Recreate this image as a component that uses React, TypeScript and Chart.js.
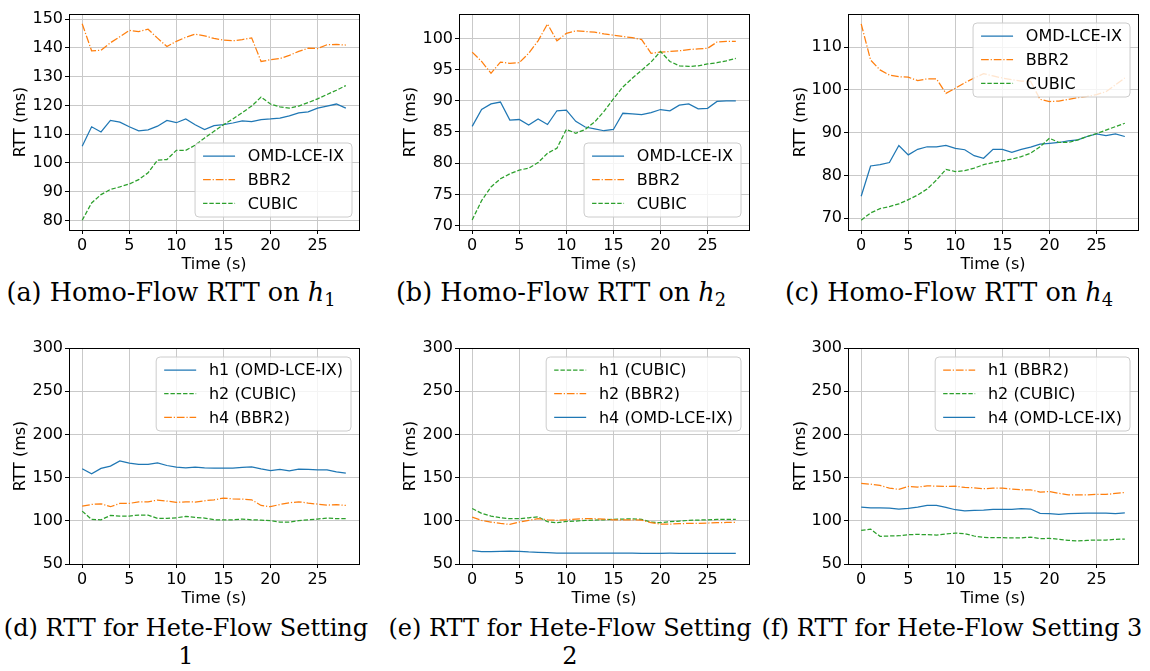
import React, { useEffect, useRef } from 'react';
import { Chart, registerables } from 'chart.js';

Chart.register(...registerables);

// ---------- data ----------
const TIME = [0, 1, 2, 3, 4, 5, 6, 7, 8, 9, 10, 11, 12, 13, 14, 15, 16, 17, 18, 19, 20, 21, 22, 23, 24, 25, 26, 27, 28];
const X_TICKS = [0, 5, 10, 15, 20, 25];

// (a) Homo-Flow RTT on h1
const A_OMD = [105.8, 112.6, 110.8, 114.8, 114.2, 112.6, 111.2, 111.5, 112.8, 114.8, 114.0, 115.3, 113.3, 111.6, 113.0, 113.3, 113.9, 114.6, 114.4, 115.1, 115.3, 115.6, 116.4, 117.4, 117.8, 119.1, 119.8, 120.5, 119.1];
const A_BBR2 = [148.4, 139.0, 139.2, 141.8, 143.9, 146.1, 145.7, 146.5, 143.4, 140.5, 142.3, 143.7, 144.8, 144.2, 143.3, 142.7, 142.5, 142.9, 143.5, 135.3, 135.9, 136.3, 137.4, 138.8, 139.9, 139.8, 141.1, 141.2, 141.0];
const A_CUBIC = [80.1, 86.1, 89.0, 90.8, 91.7, 92.7, 94.2, 96.6, 101.0, 101.2, 104.4, 104.4, 106.2, 108.7, 111.0, 113.3, 115.3, 117.5, 119.8, 122.9, 120.5, 119.5, 119.1, 119.8, 121.0, 122.3, 123.8, 125.3, 126.9];
const A_Y_TICKS = [80, 90, 100, 110, 120, 130, 140, 150];

// (b) Homo-Flow RTT on h2
const B_OMD = [85.9, 88.6, 89.5, 89.8, 86.9, 87.0, 86.1, 87.1, 86.2, 88.4, 88.5, 86.7, 85.8, 85.5, 85.2, 85.4, 88.0, 87.9, 87.8, 88.1, 88.6, 88.4, 89.3, 89.5, 88.7, 88.8, 89.9, 90.0, 90.0];
const B_BBR2 = [97.8, 96.3, 94.4, 96.2, 96.0, 96.1, 97.6, 99.6, 102.3, 99.6, 100.8, 101.2, 101.1, 101.0, 100.7, 100.5, 100.3, 100.1, 99.8, 97.6, 97.8, 97.9, 98.0, 98.2, 98.3, 98.4, 99.4, 99.5, 99.5];
const B_CUBIC = [70.9, 74.0, 76.2, 77.5, 78.3, 78.9, 79.2, 80.1, 81.6, 82.4, 85.4, 84.8, 85.4, 86.6, 88.3, 90.3, 92.2, 93.6, 94.9, 96.2, 97.9, 96.3, 95.6, 95.5, 95.6, 95.9, 96.1, 96.4, 96.8];
const B_Y_TICKS = [70, 75, 80, 85, 90, 95, 100];

// (c) Homo-Flow RTT on h4
const C_OMD = [75.1, 82.2, 82.5, 83.0, 87.0, 84.8, 86.1, 86.7, 86.7, 87.0, 86.3, 86.0, 84.6, 84.0, 86.1, 86.1, 85.4, 86.1, 86.6, 87.3, 87.5, 87.7, 88.1, 88.3, 89.1, 89.7, 89.3, 89.7, 89.1];
const C_BBR2 = [115.5, 107.0, 104.7, 103.5, 103.1, 103.0, 102.2, 102.6, 102.6, 99.2, 100.4, 101.7, 102.8, 103.8, 103.3, 102.8, 102.4, 102.1, 102.0, 97.8, 97.3, 97.4, 97.8, 98.2, 98.5, 98.9, 99.6, 101.2, 102.8];
const C_CUBIC = [69.5, 71.2, 72.2, 72.7, 73.3, 74.3, 75.4, 76.8, 78.9, 81.4, 80.9, 81.1, 81.7, 82.5, 83.0, 83.4, 83.8, 84.4, 85.2, 86.7, 88.7, 87.7, 87.7, 88.3, 89.1, 89.8, 90.6, 91.4, 92.2];
const C_Y_TICKS = [70, 80, 90, 100, 110];

// (d) Hete-Flow Setting 1
const D_H1_OMD = [160.2, 154.4, 160.6, 163.3, 169.4, 166.7, 165.2, 165.2, 167.1, 164.0, 162.1, 161.3, 162.1, 161.3, 161.0, 161.0, 161.0, 161.7, 162.5, 160.2, 158.2, 159.4, 157.9, 159.8, 159.4, 159.0, 159.0, 156.7, 155.2];
const D_H2_CUBIC = [111.2, 101.6, 101.2, 106.2, 105.5, 105.5, 106.6, 106.6, 102.8, 102.8, 103.5, 105.1, 103.9, 103.2, 101.2, 101.2, 101.2, 102.0, 101.2, 100.8, 100.1, 98.5, 98.5, 100.1, 101.2, 102.0, 103.2, 102.4, 102.4];
const D_H4_BBR2 = [117.0, 118.9, 119.7, 116.3, 120.1, 120.1, 122.0, 122.0, 124.0, 122.8, 121.3, 122.0, 121.7, 123.2, 124.3, 126.3, 125.5, 125.1, 124.3, 117.8, 116.3, 118.9, 120.9, 122.0, 120.5, 119.3, 118.2, 118.6, 117.8];

// (e) Hete-Flow Setting 2
const E_H1_CUBIC = [114.3, 108.6, 105.5, 103.5, 102.4, 102.4, 103.5, 104.7, 98.9, 97.8, 99.3, 99.7, 100.5, 100.8, 101.2, 101.6, 102.0, 102.4, 101.6, 98.5, 97.8, 98.9, 99.7, 100.5, 100.8, 101.2, 101.6, 101.6, 101.6];
const E_H2_BBR2 = [104.3, 100.5, 98.5, 97.0, 95.8, 98.5, 100.5, 102.4, 101.2, 100.5, 101.2, 102.0, 102.4, 102.4, 102.0, 101.2, 101.2, 101.2, 100.8, 97.8, 96.2, 96.2, 96.6, 97.0, 97.0, 97.4, 97.8, 98.1, 98.1];
const E_H4_OMD = [65.4, 64.3, 64.3, 64.6, 65.0, 64.6, 63.9, 63.5, 63.1, 62.7, 62.7, 62.6, 62.6, 62.5, 62.6, 62.6, 62.5, 62.5, 62.4, 62.3, 62.4, 62.5, 62.4, 62.3, 62.3, 62.4, 62.4, 62.3, 62.2];

// (f) Hete-Flow Setting 3
const F_H1_BBR2 = [143.2, 142.4, 140.9, 137.8, 136.3, 139.8, 139.0, 140.5, 140.1, 139.8, 140.1, 138.6, 138.2, 137.1, 137.8, 137.8, 136.7, 135.9, 135.9, 133.2, 134.0, 131.7, 130.1, 130.1, 130.1, 130.5, 130.5, 131.7, 132.8];
const F_H2_CUBIC = [88.9, 90.4, 82.0, 82.4, 82.7, 83.9, 84.3, 83.9, 83.5, 84.7, 85.8, 85.1, 82.4, 80.8, 80.4, 80.4, 80.1, 80.1, 81.2, 79.3, 79.7, 78.5, 77.4, 76.6, 77.4, 77.7, 77.7, 78.5, 78.9];
const F_H4_OMD = [115.9, 115.1, 115.1, 114.7, 113.6, 114.3, 115.9, 117.8, 117.8, 115.5, 112.8, 111.6, 112.0, 112.4, 113.2, 113.2, 113.2, 114.0, 113.6, 108.6, 108.2, 107.4, 108.2, 108.6, 109.0, 109.0, 109.0, 108.2, 109.3];

const HETE_Y_TICKS = [50, 100, 150, 200, 250, 300];

// ---------- styles ----------
const FONT = '"DejaVu Sans"';
const GRID = '#c9c9c9';
const LW = 1.25;
const STYLES: Record<string, { color: string; dash: number[] }> = {
  omd: { color: '#1f77b4', dash: [] },
  bbr2: { color: '#ff7f0e', dash: [7.7, 1.9, 1.2, 1.9] },
  cubic: { color: '#2ca02c', dash: [4.4, 1.9] },
};

type Series = { label: string; values: number[]; kind: 'omd' | 'bbr2' | 'cubic' };
type Panel = {
  left: number; top: number; width: number; height: number; yWidth: number;
  yMin: number; yMax: number; yTicks: number[]; series: Series[];
  legend: { corner: 'ur' | 'lr'; gx: number; gy: number };
};

const PANELS: Panel[] = [
  {
    left: 11, top: 0, width: 352, height: 274, yWidth: 58, yMin: 76.7, yMax: 151.8, yTicks: A_Y_TICKS,
    series: [
      { label: 'OMD-LCE-IX', values: A_OMD, kind: 'omd' },
      { label: 'BBR2', values: A_BBR2, kind: 'bbr2' },
      { label: 'CUBIC', values: A_CUBIC, kind: 'cubic' },
    ],
    legend: { corner: 'lr', gx: 7, gy: 13 },
  },
  {
    left: 401, top: 0, width: 352, height: 274, yWidth: 58, yMin: 69.3, yMax: 103.9, yTicks: B_Y_TICKS,
    series: [
      { label: 'OMD-LCE-IX', values: B_OMD, kind: 'omd' },
      { label: 'BBR2', values: B_BBR2, kind: 'bbr2' },
      { label: 'CUBIC', values: B_CUBIC, kind: 'cubic' },
    ],
    legend: { corner: 'lr', gx: 8, gy: 13 },
  },
  {
    left: 791, top: 0, width: 351, height: 274, yWidth: 57, yMin: 67.2, yMax: 117.8, yTicks: C_Y_TICKS,
    series: [
      { label: 'OMD-LCE-IX', values: C_OMD, kind: 'omd' },
      { label: 'BBR2', values: C_BBR2, kind: 'bbr2' },
      { label: 'CUBIC', values: C_CUBIC, kind: 'cubic' },
    ],
    legend: { corner: 'ur', gx: 8, gy: 9 },
  },
  {
    left: 11, top: 334, width: 352, height: 274, yWidth: 58, yMin: 50, yMax: 300, yTicks: HETE_Y_TICKS,
    series: [
      { label: 'h1 (OMD-LCE-IX)', values: D_H1_OMD, kind: 'omd' },
      { label: 'h2 (CUBIC)', values: D_H2_CUBIC, kind: 'cubic' },
      { label: 'h4 (BBR2)', values: D_H4_BBR2, kind: 'bbr2' },
    ],
    legend: { corner: 'ur', gx: 8, gy: 9 },
  },
  {
    left: 401, top: 334, width: 352, height: 274, yWidth: 58, yMin: 50, yMax: 300, yTicks: HETE_Y_TICKS,
    series: [
      { label: 'h1 (CUBIC)', values: E_H1_CUBIC, kind: 'cubic' },
      { label: 'h2 (BBR2)', values: E_H2_BBR2, kind: 'bbr2' },
      { label: 'h4 (OMD-LCE-IX)', values: E_H4_OMD, kind: 'omd' },
    ],
    legend: { corner: 'ur', gx: 8, gy: 9 },
  },
  {
    left: 791, top: 334, width: 351, height: 274, yWidth: 57, yMin: 50, yMax: 300, yTicks: HETE_Y_TICKS,
    series: [
      { label: 'h1 (BBR2)', values: F_H1_BBR2, kind: 'bbr2' },
      { label: 'h2 (CUBIC)', values: F_H2_CUBIC, kind: 'cubic' },
      { label: 'h4 (OMD-LCE-IX)', values: F_H4_OMD, kind: 'omd' },
    ],
    legend: { corner: 'ur', gx: 8, gy: 9 },
  },
];

// ---------- plugins ----------
const framePlugin = {
  id: 'frame',
  afterDraw(chart: any) {
    const { ctx, chartArea: a } = chart;
    ctx.save();
    ctx.strokeStyle = '#000';
    ctx.lineWidth = 1;
    const l = Math.round(a.left) + 0.5;
    const t = Math.round(a.top) + 0.5;
    const r = Math.round(a.right) + 0.5;
    const b = Math.round(a.bottom) + 0.5;
    ctx.strokeRect(l, t, r - l, b - t);
    ctx.restore();
  },
};

function makeLegendPlugin(cfg: Panel['legend']) {
  return {
    id: 'boxLegend',
    afterDraw(chart: any) {
      const { ctx, chartArea: a } = chart;
      const ds = chart.data.datasets;
      ctx.save();
      ctx.font = `16px ${FONT}`;
      const tw = Math.max(...ds.map((d: any) => ctx.measureText(d.label).width));
      const pad = 8, handle = 32, gap = 12.8, h = 74, pitch = 23.7;
      const w = pad + handle + gap + tw + pad;
      const x = a.right - cfg.gx - w;
      const y = cfg.corner === 'ur' ? a.top + cfg.gy : a.bottom - cfg.gy - h;
      const rr = 4;
      ctx.beginPath();
      ctx.moveTo(x + rr, y);
      ctx.lineTo(x + w - rr, y);
      ctx.quadraticCurveTo(x + w, y, x + w, y + rr);
      ctx.lineTo(x + w, y + h - rr);
      ctx.quadraticCurveTo(x + w, y + h, x + w - rr, y + h);
      ctx.lineTo(x + rr, y + h);
      ctx.quadraticCurveTo(x, y + h, x, y + h - rr);
      ctx.lineTo(x, y + rr);
      ctx.quadraticCurveTo(x, y, x + rr, y);
      ctx.closePath();
      ctx.fillStyle = 'rgba(255,255,255,0.8)';
      ctx.fill();
      ctx.strokeStyle = '#cccccc';
      ctx.lineWidth = 1;
      ctx.stroke();
      ds.forEach((d: any, i: number) => {
        const cy = y + 13 + i * pitch;
        ctx.beginPath();
        ctx.setLineDash(d.borderDash || []);
        ctx.strokeStyle = d.borderColor;
        ctx.lineWidth = LW;
        ctx.moveTo(x + pad, cy);
        ctx.lineTo(x + pad + handle, cy);
        ctx.stroke();
        ctx.setLineDash([]);
        ctx.fillStyle = '#000';
        ctx.textBaseline = 'middle';
        ctx.textAlign = 'left';
        ctx.fillText(d.label, x + pad + handle + gap, cy + 1);
      });
      ctx.restore();
    },
  };
}

// ---------- chart panel ----------
function PanelChart({ p }: { p: Panel }) {
  const ref = useRef<HTMLCanvasElement>(null);
  useEffect(() => {
    const tickFont = { family: FONT, size: 16 };
    const chart = new Chart(ref.current as HTMLCanvasElement, {
      type: 'line',
      data: {
        datasets: p.series.map((s, i) => ({
          label: s.label,
          data: TIME.map((t, j) => ({ x: t, y: s.values[j] })),
          borderColor: STYLES[s.kind].color,
          backgroundColor: STYLES[s.kind].color,
          borderDash: STYLES[s.kind].dash,
          borderWidth: LW,
          pointRadius: 0,
          fill: false,
          tension: 0,
          order: -i,
        })),
      },
      options: {
        responsive: false,
        animation: false,
        devicePixelRatio: 1,
        layout: { padding: { top: 14, right: 4, left: 0, bottom: 0 } },
        plugins: { legend: { display: false }, tooltip: { enabled: false } },
        scales: {
          x: {
            type: 'linear',
            min: -1.4,
            max: 29.4,
            afterBuildTicks: (scale: any) => { scale.ticks = X_TICKS.map((v) => ({ value: v })); },
            afterFit: (scale: any) => { scale.height = 44; },
            grid: { color: GRID, lineWidth: 1, drawTicks: true, tickLength: 4, tickColor: '#000', tickWidth: 1 },
            border: { display: false },
            ticks: { color: '#000', font: tickFont, padding: 2, maxRotation: 0, autoSkip: false },
            title: { display: true, text: 'Time (s)', color: '#000', font: tickFont, padding: 0 },
          },
          y: {
            type: 'linear',
            min: p.yMin,
            max: p.yMax,
            afterBuildTicks: (scale: any) => { scale.ticks = p.yTicks.map((v) => ({ value: v })); },
            afterFit: (scale: any) => { scale.width = p.yWidth; },
            grid: { color: GRID, lineWidth: 1, drawTicks: true, tickLength: 4, tickColor: '#000', tickWidth: 1 },
            border: { display: false },
            ticks: { color: '#000', font: tickFont, padding: 2, autoSkip: false },
            title: { display: true, text: 'RTT (ms)', color: '#000', font: tickFont, padding: 0 },
          },
        },
      } as any,
      plugins: [framePlugin, makeLegendPlugin(p.legend)],
    });
    return () => chart.destroy();
  }, []);
  return (
    <canvas
      ref={ref}
      width={p.width}
      height={p.height}
      style={{ position: 'absolute', left: p.left, top: p.top, width: p.width, height: p.height }}
    />
  );
}

// ---------- captions ----------
const CAP_FONT = '"DejaVu Serif", serif';
const capBase: React.CSSProperties = {
  position: 'absolute',
  width: 440,
  textAlign: 'center',
  fontFamily: CAP_FONT,
  fontSize: 24,
  lineHeight: '28px',
  color: '#000',
  whiteSpace: 'nowrap',
};
const capTop: React.CSSProperties = { ...capBase, fontSize: 25.5, top: 278 };
const capBottom: React.CSSProperties = { ...capBase, fontSize: 24, top: 614 };

function Sub({ h }: { h: string }) {
  return (
    <>
      <span style={{ fontStyle: 'italic' }}>h</span>
      <span style={{ fontSize: '0.7em', position: 'relative', top: '0.3em' }}>{h}</span>
    </>
  );
}

export default function App() {
  return (
    <div style={{ position: 'absolute', left: 0, top: 0, width: 1150, height: 671, background: '#fff', overflow: 'hidden' }}>
      {PANELS.map((p, i) => <PanelChart key={i} p={p} />)}
      <div style={{ ...capTop, left: 171 - 220 }}>(a) Homo-Flow RTT on <Sub h="1" /></div>
      <div style={{ ...capTop, left: 561 - 220 }}>(b) Homo-Flow RTT on <Sub h="2" /></div>
      <div style={{ ...capTop, left: 949 - 220 }}>(c) Homo-Flow RTT on <Sub h="4" /></div>
      <div style={{ ...capBottom, left: 186 - 220 }}>(d) RTT for Hete-Flow Setting<br />1</div>
      <div style={{ ...capBottom, left: 570 - 220 }}>(e) RTT for Hete-Flow Setting<br />2</div>
      <div style={{ ...capBottom, left: 952 - 220 }}>(f) RTT for Hete-Flow Setting 3</div>
    </div>
  );
}
